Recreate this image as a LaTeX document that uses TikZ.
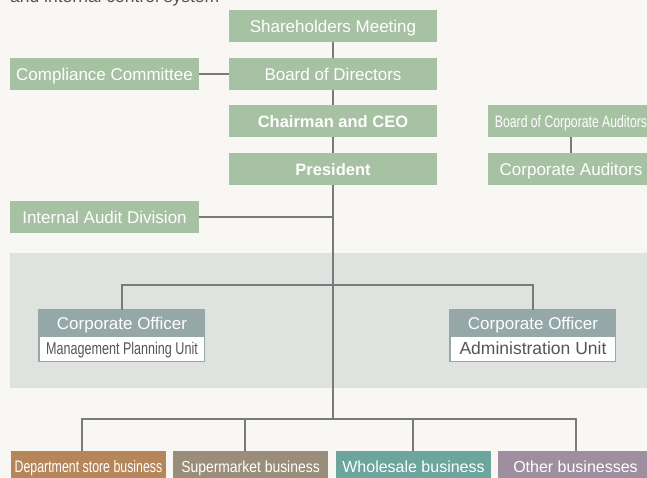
\documentclass[tikz,border=0pt]{standalone}
\usepackage{fontspec}
\setmainfont{Liberation Sans}
\newfontfamily\narrowfont[FakeStretch=0.74]{Liberation Sans}
\newfontfamily\semifont[FakeStretch=0.87]{Liberation Sans}

\definecolor{paper}{HTML}{F8F7F3}
\definecolor{band}{HTML}{DFE3E0}
\definecolor{boardgreen}{HTML}{A7C1A3}
\definecolor{officergray}{HTML}{95A7A7}
\definecolor{deptbrown}{HTML}{B5865A}
\definecolor{superbrown}{HTML}{9A8D79}
\definecolor{saleteal}{HTML}{6BA59D}
\definecolor{othermauve}{HTML}{9F8E9F}
\definecolor{linkgray}{HTML}{7A7A7A}
\definecolor{textgray}{HTML}{555555}

\begin{document}
\begin{tikzpicture}[x=1pt,y=-1pt]

\tikzset{unit/.style = {fill=boardgreen, text=white, minimum width=208pt, minimum height=32pt, inner sep=0pt, text height=12pt, text depth=0pt, font=\fontsize{17}{20}\selectfont}}
\tikzset{side/.style = {unit, minimum width=189pt}}
\tikzset{business/.style = {unit, minimum width=155pt, text height=11.5pt, font=\fontsize{16}{19}\selectfont}}
\tikzset{officer/.style = {fill=officergray, text=white, minimum width=166pt, minimum height=26pt, inner sep=0pt, text height=12pt, text depth=0pt, font=\fontsize{17}{20}\selectfont}}
\tikzset{post/.style = {fill=white, draw=officergray, text=textgray, minimum width=165pt, minimum height=25pt, inner sep=0pt, text height=12pt, text depth=0pt}}
\tikzset{link/.style = {draw=linkgray, line width=1.2pt}}

\useasboundingbox (0,0) rectangle (647,477);
\clip (0,0) rectangle (647,477);
\fill[paper] (0,0) rectangle (647,477);
\fill[band] (10,253) rectangle (647,388);

\node[anchor=base west, inner sep=0pt, text=textgray, font=\fontsize{17.5}{20}\selectfont] (caption) at (10,2.5) {and internal control system};

%boards
\node[unit] (share) at (333,26) {Shareholders Meeting};
\node[unit] (board) at (333,74) {Board of Directors};
\node[unit, font=\fontsize{16.5}{20}\selectfont\bfseries] (ceo) at (333,121) {Chairman and CEO};
\node[unit, font=\fontsize{16.5}{20}\selectfont\bfseries] (pres) at (333,169) {President};
\node[side] (comp) at (104.5,74) {Compliance Committee};
\node[side] (audit) at (104.5,217) {Internal Audit Division};
\node[unit, minimum width=166pt, font=\fontsize{16.5}{20}\selectfont\narrowfont] (kansa) at (571,121) {Board of Corporate Auditors};
\node[unit, minimum width=166pt] (auditors) at (571,169) {Corporate Auditors};

%officers
\node[officer] (off1) at (122,323) {Corporate Officer};
\node[post, font=\fontsize{17}{20}\selectfont\narrowfont] (plan) at (122,348.5) {Management Planning Unit};
\node[officer] (off2) at (533,323) {Corporate Officer};
\node[post, font=\fontsize{17.5}{20}\selectfont] (admin) at (533,348.5) {Administration Unit};
\draw[officergray, line width=1pt] (off1.north west) rectangle (plan.south east);
\draw[officergray, line width=1pt] (off2.north west) rectangle (admin.south east);

%businesses
\node[business, fill=deptbrown, font=\fontsize{16.7}{19}\selectfont\narrowfont] (dept) at (88.5,467) {Department store business};
\node[business, fill=superbrown, font=\fontsize{16}{19}\selectfont\semifont] (super) at (250.5,467) {Supermarket business};
\node[business, fill=saleteal] (sale) at (413.5,467) {Wholesale business};
\node[business, fill=othermauve] (other) at (575.5,467) {Other businesses};

%edges
\coordinate (hub1) at (333,285);
\coordinate (hub2) at (333,419);
\coordinate (b1) at (82,419);
\coordinate (b2) at (245,419);
\coordinate (b3) at (413,419);
\coordinate (b4) at (576,419);
\draw[link] (share) -- (board);
\draw[link] (board) -- (ceo);
\draw[link] (ceo) -- (pres);
\draw[link] (pres) -- (hub2);
\draw[link] (comp) -- (board);
\draw[link] (audit.east) -- (audit.east -| pres);
\draw[link] (kansa) -- (auditors);
\draw[link] (off1.north) |- (hub1) -| (off2.north);
\draw[link] (b1 |- dept.north) -- (b1) -- (b4) -- (b4 |- other.north);
\draw[link] (b2) -- (b2 |- super.north);
\draw[link] (b3) -- (b3 |- sale.north);

\end{tikzpicture}
\end{document}
